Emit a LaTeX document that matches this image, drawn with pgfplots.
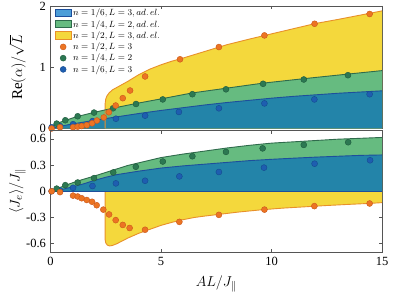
\documentclass[border=0pt]{standalone}
\usepackage{fontspec}
\setmainfont{Liberation Serif}
\usepackage{pgfplots}
\pgfplotsset{compat=1.18}
\definecolor{bfill}{HTML}{2384A9}
\definecolor{bline}{HTML}{1D4F9C}
\definecolor{gfill}{HTML}{66BB80}
\definecolor{gline}{HTML}{2F6B4C}
\definecolor{yfill}{HTML}{F4D83C}
\definecolor{oline}{HTML}{E8902A}
\definecolor{odot}{HTML}{EC7423}
\definecolor{odotE}{HTML}{C9561A}
\definecolor{gdot}{HTML}{2C7852}
\definecolor{gdotE}{HTML}{1E5A3C}
\definecolor{bdot}{HTML}{1E5EB0}
\definecolor{bdotE}{HTML}{154A8E}
\definecolor{lbfill}{HTML}{4C9ED8}
\definecolor{axgray}{HTML}{555555}
\pgfplotsset{
  myaxis/.style={
    scale only axis, width=331.5pt, height=122.5pt,
    xmin=0, xmax=15, xtick={0,5,10,15},
    tick align=inside, xtick pos=both, ytick pos=both,
    major tick length=3.5pt,
    axis line style={axgray, line width=0.6pt},
    every tick/.style={axgray, line width=0.5pt},
    tick label style={font=\fontsize{12.5}{14}\selectfont},
    yticklabel style={xshift=-1pt},
    xticklabel style={yshift=-1pt},
    every axis y label/.style={at={(axis description cs:-0.1,0.5)}, rotate=90, anchor=center, inner sep=1pt, font=\fontsize{15}{17}\selectfont},
    every axis x label/.style={at={(axis description cs:0.5,-0.255)}, anchor=center, inner sep=1pt, font=\fontsize{15}{17}\selectfont},
  },
  fillb/.style={fill=bfill, draw=none, forget plot},
  fillg/.style={fill=gfill, draw=none, forget plot},
  filly/.style={fill=yfill, draw=none, forget plot},
  lineb/.style={bline, line width=0.9pt, forget plot},
  lineg/.style={gline, line width=0.9pt, forget plot},
  liney/.style={oline, line width=0.9pt, forget plot},
  dotso/.style={only marks, mark=*, mark size=3pt, mark options={fill=odot, draw=odotE, line width=0.4pt}},
  dotsg/.style={only marks, mark=*, mark size=3pt, mark options={fill=gdot, draw=gdotE, line width=0.4pt}},
  dotsb/.style={only marks, mark=*, mark size=3pt, mark options={fill=bdot, draw=bdotE, line width=0.4pt}},
  legb/.style={legend image code/.code={\draw[fill=lbfill, draw=bline, line width=0.9pt] (0.5pt,-3.5pt) rectangle (17pt,4pt);}},
  legg/.style={legend image code/.code={\draw[fill=gfill, draw=gline, line width=0.9pt] (0.5pt,-3.5pt) rectangle (17pt,4pt);}},
  legy/.style={legend image code/.code={\draw[fill=yfill, draw=oline, line width=0.9pt] (0.5pt,-3.5pt) rectangle (17pt,4pt);}},
}
\begin{document}
\begin{tikzpicture}
\path[use as bounding box] (0,0) rectangle (415pt,294pt);
% ---------------- top panel ----------------
\begin{axis}[myaxis, at={(50.5pt,165.5pt)}, anchor=south west,
  ymin=0, ymax=2, ytick={0,1,2}, yticklabels={0,1,2}, xticklabels={},
  ylabel={$\mathrm{Re}(\alpha)/\sqrt{L}$},
  legend style={at={(rel axis cs:0.012,0.985)}, anchor=north west, draw=none, fill=none,
    font=\fontsize{9.5}{10.5}\selectfont, inner sep=0pt, row sep=1pt,
    nodes={inner sep=1pt}},
  legend cell align=left]
\addplot[filly] coordinates {(2.47,0) (2.47,0.40) (2.5,0.48) (2.55,0.53) (2.65,0.58) (2.8,0.63) (3.0,0.67) (3.25,0.72) (3.5,0.77) (4.0,0.88) (4.5,0.97) (5.0,1.04) (5.5,1.10) (6.0,1.15) (7.0,1.26) (8.0,1.37) (9.0,1.46) (10.0,1.545) (11.0,1.63) (12.0,1.715) (13.0,1.78) (14.0,1.85) (15.0,1.92) (15,0)};
\addplot[fillg] coordinates {(0,0) (0,0.02) (0.15,0.06) (0.3,0.085) (0.7,0.135) (1.2,0.195) (2,0.265) (2.8,0.33) (3.9,0.41) (5.1,0.49) (6.4,0.58) (7.9,0.655) (9.6,0.74) (11.5,0.815) (13.5,0.89) (15,0.945) (15,0)};
\addplot[fillb] coordinates {(0,0) (0.5,0.04) (1,0.075) (2,0.135) (3,0.19) (4,0.245) (5,0.295) (6,0.34) (7,0.385) (8,0.425) (9,0.46) (10,0.495) (11,0.525) (12,0.55) (13,0.575) (14,0.595) (15,0.615) (15,0)};
\addplot[liney] coordinates {(2.47,0) (2.47,0.40) (2.5,0.48) (2.55,0.53) (2.65,0.58) (2.8,0.63) (3.0,0.67) (3.25,0.72) (3.5,0.77) (4.0,0.88) (4.5,0.97) (5.0,1.04) (5.5,1.10) (6.0,1.15) (7.0,1.26) (8.0,1.37) (9.0,1.46) (10.0,1.545) (11.0,1.63) (12.0,1.715) (13.0,1.78) (14.0,1.85) (15.0,1.92)};
\addplot[lineg] coordinates {(0,0.02) (0.15,0.06) (0.3,0.085) (0.7,0.135) (1.2,0.195) (2,0.265) (2.8,0.33) (3.9,0.41) (5.1,0.49) (6.4,0.58) (7.9,0.655) (9.6,0.74) (11.5,0.815) (13.5,0.89) (15,0.945)};
\addplot[lineb] coordinates {(0,0) (0.5,0.04) (1,0.075) (2,0.135) (3,0.19) (4,0.245) (5,0.295) (6,0.34) (7,0.385) (8,0.425) (9,0.46) (10,0.495) (11,0.525) (12,0.55) (13,0.575) (14,0.595) (15,0.615)};
\addplot[dotsb, forget plot] coordinates {(0.05,0.02) (0.43,0.04) (1.02,0.07) (1.9,0.12) (2.96,0.16) (4.28,0.21) (5.81,0.27) (7.62,0.33) (9.68,0.41) (11.94,0.475) (14.44,0.56)};
\addplot[dotsg, forget plot] coordinates {(0.28,0.08) (0.67,0.135) (1.23,0.2) (1.97,0.26) (2.83,0.33) (3.87,0.40) (5.08,0.475) (6.42,0.56) (7.94,0.64) (9.62,0.73) (11.46,0.80) (13.46,0.87)};
\addplot[dotso, forget plot] coordinates {(0.05,0.0) (0.43,0.02) (1.02,0.02) (1.23,0.03) (1.41,0.04) (1.64,0.055) (1.88,0.085) (2.1,0.13) (2.41,0.18) (2.64,0.265) (2.95,0.375) (3.27,0.495) (3.6,0.62) (4.28,0.85) (5.86,1.13) (7.62,1.33) (9.68,1.52) (11.95,1.71) (14.44,1.87)};
\addlegendimage{legb}
\addlegendentry{$n=1/6, L=3, ad.\,el.$}
\addlegendimage{legg}
\addlegendentry{$n=1/4, L=2, ad.\,el.$}
\addlegendimage{legy}
\addlegendentry{$n=1/2, L=3, ad.\,el.$}
\addlegendimage{dotso}
\addlegendentry{$n=1/2, L=3$}
\addlegendimage{dotsg}
\addlegendentry{$n=1/4, L=2$}
\addlegendimage{dotsb}
\addlegendentry{$n=1/6, L=3$}
\end{axis}
% ---------------- bottom panel ----------------
\begin{axis}[myaxis, at={(50.5pt,41.5pt)}, anchor=south west,
  ymin=-0.7, ymax=0.7, ytick={-0.6,-0.3,0,0.3,0.6}, yticklabels={-0.6,-0.3,0,0.3,0.6},
  xticklabels={0,5,10,15},
  ylabel={$\langle J_e\rangle/J_\parallel$}, xlabel={$AL/J_\parallel$}]
\addplot[filly] coordinates {(2.47,0) (2.47,-0.55) (2.5,-0.59) (2.57,-0.615) (2.67,-0.625) (2.8,-0.62) (3.0,-0.60) (3.5,-0.535) (4.0,-0.48) (4.5,-0.435) (5.0,-0.39) (5.5,-0.355) (6.0,-0.325) (6.5,-0.30) (7.0,-0.283) (7.6,-0.265) (8.5,-0.238) (9.5,-0.213) (10.5,-0.193) (11.5,-0.178) (12.5,-0.163) (13.5,-0.15) (14.5,-0.138) (15,-0.13) (15,0)};
\addplot[fillg] coordinates {(0,0) (0.3,0.03) (0.7,0.07) (1.2,0.115) (2,0.175) (2.5,0.215) (3,0.255) (3.5,0.295) (4,0.325) (5,0.385) (6,0.425) (7,0.46) (8,0.495) (9,0.525) (10,0.55) (11,0.565) (12,0.58) (13,0.595) (14,0.605) (15,0.615) (15,0)};
\addplot[fillb] coordinates {(0,0) (0.5,0.02) (1,0.05) (1.5,0.085) (2,0.125) (2.5,0.16) (3,0.19) (3.5,0.21) (4,0.23) (5,0.265) (6,0.29) (7,0.31) (8,0.33) (9,0.35) (10,0.365) (11,0.378) (12,0.39) (13,0.40) (14,0.41) (15,0.415) (15,0)};
\addplot[liney] coordinates {(2.47,0) (2.47,-0.55) (2.5,-0.59) (2.57,-0.615) (2.67,-0.625) (2.8,-0.62) (3.0,-0.60) (3.5,-0.535) (4.0,-0.48) (4.5,-0.435) (5.0,-0.39) (5.5,-0.355) (6.0,-0.325) (6.5,-0.30) (7.0,-0.283) (7.6,-0.265) (8.5,-0.238) (9.5,-0.213) (10.5,-0.193) (11.5,-0.178) (12.5,-0.163) (13.5,-0.15) (14.5,-0.138) (15,-0.13)};
\addplot[lineg] coordinates {(0,0) (0.3,0.03) (0.7,0.07) (1.2,0.115) (2,0.175) (2.5,0.215) (3,0.255) (3.5,0.295) (4,0.325) (5,0.385) (6,0.425) (7,0.46) (8,0.495) (9,0.525) (10,0.55) (11,0.565) (12,0.58) (13,0.595) (14,0.605) (15,0.615)};
\addplot[lineb] coordinates {(0,0) (0.5,0.02) (1,0.05) (1.5,0.085) (2,0.125) (2.5,0.16) (3,0.19) (3.5,0.21) (4,0.23) (5,0.265) (6,0.29) (7,0.31) (8,0.33) (9,0.35) (10,0.365) (11,0.378) (12,0.39) (13,0.40) (14,0.41) (15,0.415)};
\addplot[lineb] coordinates {(0,0) (15,0)};
\addplot[dotsb, forget plot] coordinates {(0.05,0.0) (0.43,0.01) (1.02,0.04) (1.9,0.06) (2.96,0.09) (4.28,0.12) (5.83,0.17) (7.62,0.22) (9.66,0.27) (11.95,0.315) (14.46,0.354)};
\addplot[dotsg, forget plot] coordinates {(0.28,0.03) (0.67,0.07) (1.23,0.10) (1.97,0.15) (2.84,0.215) (3.86,0.28) (5.08,0.34) (6.42,0.40) (7.94,0.45) (9.6,0.49) (11.46,0.53) (13.47,0.56)};
\addplot[dotso, forget plot] coordinates {(0.05,0.0) (0.43,-0.01) (1.02,-0.05) (1.23,-0.06) (1.41,-0.08) (1.64,-0.10) (1.88,-0.12) (2.09,-0.16) (2.39,-0.21) (2.65,-0.265) (2.95,-0.33) (3.27,-0.385) (3.58,-0.42) (4.28,-0.44) (5.83,-0.35) (7.62,-0.27) (9.68,-0.21) (11.94,-0.17) (14.44,-0.14)};
\end{axis}
\end{tikzpicture}
\end{document}
